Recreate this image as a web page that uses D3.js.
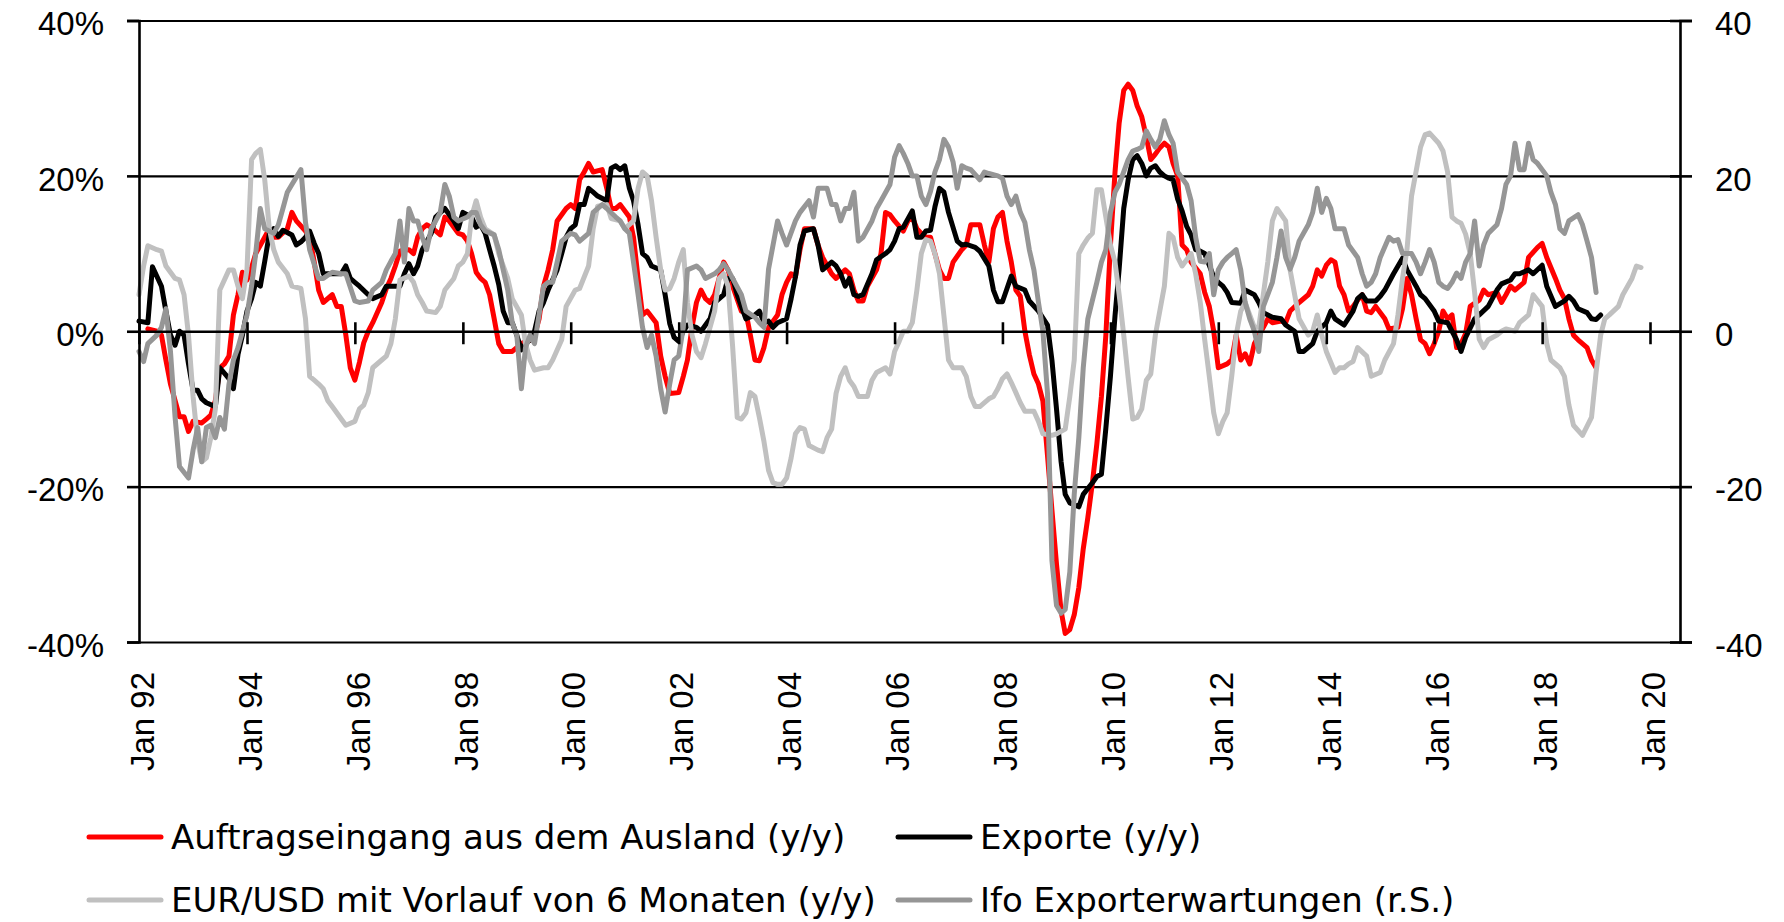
<!DOCTYPE html>
<html>
<head>
<meta charset="utf-8">
<script src="https://cdn.jsdelivr.net/npm/d3@7"></script>
<style>
  body { margin: 0; background: #fff; }
  svg { display: block; font-family: "DejaVu Sans", Verdana, sans-serif; }
  .axis .domain { stroke: #000; stroke-width: 2.6px; }
  .axis line { stroke: #000; stroke-width: 2.6px; }
  .axis text { fill: #000; font-size: 33px; }
  .grid line { stroke: #000; stroke-width: 2.2px; }
  .grid .domain { display: none; }
  .series { fill: none; stroke-width: 5px; stroke-linejoin: round; stroke-linecap: round; }
  .legend text { font-size: 34px; fill: #000; }
</style>
</head>
<body>
<svg width="1784" height="922"></svg>
<script>
// month offsets count from Jan 1992
const startYear = 1992;

const auftragAusland = [[2,0.3],[4,0],[5,-0.5],[6,-3.7],[7,-6.8],[8,-8.9],[9,-11],[10,-11],[11,-12.9],[12,-11.6],[14,-11.8],[15,-11.3],[16,-10.8],[17,-8.9],[18,-4.7],[19,-4.2],[20,-3.2],[21,2.1],[22,4.7],[23,7.6],[24,6.6],[25,8.2],[26,10],[28,12.1],[29,13.2],[30,12.1],[31,12.1],[33,13.2],[34,15.3],[35,14.2],[37,12.9],[38,12.1],[39,8.9],[40,5.3],[41,3.7],[43,4.7],[44,3.2],[45,3.2],[46,-0.5],[47,-4.7],[48,-6.3],[49,-4],[50,-1.5],[51,0],[52,1.1],[54,3.7],[55,5.5],[56,6.8],[57,8.4],[58,10.3],[59,10.5],[60,10.5],[61,10],[62,12.1],[63,13.2],[64,13.7],[65,13.4],[67,12.4],[68,14.7],[69,14.2],[71,12.6],[72,12.4],[73,11.6],[74,10],[75,7.6],[76,6.8],[77,6.3],[78,4.7],[79,1.6],[80,-1.6],[81,-2.6],[83,-2.6],[84,-2.1],[85,-1.6],[86,-1.3],[87,-1.1],[88,-0.5],[89,1.6],[90,5.8],[91,7.9],[92,10.5],[93,14.2],[95,15.8],[96,16.3],[97,15.8],[98,19.5],[99,20.5],[100,21.6],[101,20.5],[103,20.8],[104,18.4],[105,15.8],[106,15.8],[107,16.3],[109,14.7],[110,12.1],[111,6.8],[112,2.1],[113,2.6],[115,1.1],[116,-3.2],[117,-5.8],[118,-8],[120,-7.9],[121,-5.8],[122,-3.7],[123,0.5],[124,3.7],[125,5.3],[126,4.2],[127,3.7],[128,4.7],[129,6.8],[130,8.9],[131,7.9],[132,5.8],[134,2.6],[135,2.4],[136,-0.5],[137,-3.7],[138,-3.8],[139,-2.1],[140,0.5],[142,2.1],[143,4.7],[144,6.3],[145,7.4],[146,7],[147,10.5],[148,13.2],[150,13.2],[151,11.1],[152,9.5],[154,7.4],[155,6.8],[157,7.9],[158,7.4],[159,5.3],[160,3.9],[161,3.9],[162,5.8],[164,7.9],[165,10],[166,15.3],[167,15],[168,14.2],[170,12.9],[171,14.2],[172,14.7],[173,13.2],[174,12.6],[175,12.1],[176,12.1],[177,10],[178,7.9],[179,6.8],[180,6.8],[181,8.9],[183,10.5],[184,11.1],[185,13.7],[187,13.7],[188,11.1],[189,8.9],[190,13.2],[191,14.7],[192,15.3],[193,11.6],[194,8.9],[195,5.3],[196,4.5],[197,0],[198,-3],[199,-5.5],[200,-6.8],[201,-9],[202,-16],[203,-23],[204,-30],[205,-36],[206,-38.9],[207,-38.4],[208,-36.5],[209,-33],[210,-28],[211,-24],[212,-19.5],[213,-14.5],[214,-8.4],[215,-0.5],[216,11.1],[217,20.5],[218,26.8],[219,31],[220,31.8],[221,31],[222,29],[223,27.6],[224,25],[225,22.1],[226,22.8],[227,23.6],[228,24.2],[229,23.7],[230,21.6],[231,20],[232,11.1],[233,10.5],[234,8.9],[236,7.4],[237,5],[238,3.2],[239,0],[240,-4.7],[242,-4.2],[243,-3.7],[244,-0.5],[245,-3.7],[246,-2.9],[247,-4.2],[248,-1.6],[250,0.5],[251,1.6],[252,1.1],[254,1.3],[255,1.1],[256,2.6],[258,3.7],[260,4.7],[261,5.8],[262,7.9],[263,7.1],[264,8.5],[265,9.2],[266,8.9],[267,5.8],[268,4.7],[269,2.6],[270,3.2],[271,4],[272,4.7],[273,2.6],[274,2.4],[275,3.2],[277,1.6],[278,0.3],[280,0.5],[281,2.9],[282,6.8],[283,4.7],[284,1.6],[285,-1.1],[286,-1.6],[287,-2.9],[288,-1.6],[289,0],[290,2.6],[291,1.6],[292,2.1],[293,-2.1],[294,-1.6],[295,-0.3],[296,3.2],[298,4],[299,5.3],[300,4.7],[302,5],[303,3.7],[304,4.7],[305,5.8],[306,5.3],[308,6.3],[309,9.5],[311,10.8],[312,11.3],[313,9.5],[315,6.8],[316,5.3],[317,4.2],[318,1.6],[319,-0.5],[320,-1.1],[322,-2.1],[323,-3.7],[324,-4.7]];

const exporte = [[0,1.3],[2,1.1],[3,8.3],[5,5.8],[6,2.6],[7,-0.5],[8,-1.8],[9,0],[10,-0.5],[11,-4.2],[12,-7.6],[13,-7.6],[14,-8.7],[15,-9.2],[17,-9.7],[18,-4.7],[20,-6.1],[21,-7.4],[22,-3],[23,-0.5],[24,2.6],[25,4.2],[26,6.3],[27,5.8],[28,9],[29,12.5],[30,13.2],[31,12.2],[32,13],[34,12.4],[35,11.1],[36,11.5],[37,12.1],[38,12.9],[39,11.3],[40,10],[41,7.4],[45,7.4],[46,8.4],[47,6.8],[48,6.3],[49,5.8],[51,4.7],[52,4.2],[54,4.7],[55,5.8],[58,5.8],[59,7.4],[60,8.7],[61,7.4],[62,8.4],[63,10.5],[65,12.6],[66,14.7],[68,15.8],[70,14.2],[71,13.2],[72,15.3],[74,14.7],[75,13.4],[76,13.7],[77,12.6],[78,10.5],[79,8.4],[80,6],[81,2.6],[82,1.1],[83,1.1],[84,-0.5],[85,-2.4],[86,-1.6],[87,-1.1],[88,0],[89,2.6],[90,3.7],[91,5.3],[93,7.9],[94,10],[95,12.1],[96,13.2],[97,13.7],[98,16.3],[99,16.3],[100,18.4],[101,17.9],[102,17.4],[104,16.8],[105,21],[106,21.3],[107,20.8],[108,21.3],[109,18.4],[110,16.8],[111,13.7],[112,10],[113,9.5],[114,8.4],[116,7.9],[117,4.7],[118,1],[119,-0.8],[120,-1.3],[121,0],[122,0.8],[124,0.5],[125,0],[127,1.6],[128,3.7],[130,4.7],[131,6.8],[132,6.8],[133,4.7],[134,3.2],[135,1.6],[137,2.1],[138,2.6],[139,1.1],[140,1.3],[141,0.5],[142,1.1],[144,1.6],[145,4.2],[146,7],[147,11.1],[148,12.9],[150,13.2],[151,11.1],[152,7.9],[154,8.9],[155,8.4],[156,7.4],[157,5.8],[158,6.8],[159,4.7],[160,4.5],[161,4.7],[163,7.4],[164,9.2],[166,10],[167,10.5],[168,11.6],[169,13.2],[170,13.4],[172,15.5],[173,12.1],[174,12.1],[175,12.9],[176,13],[177,16],[178,18.4],[179,17.9],[180,15.3],[182,11.6],[183,11.1],[184,11.2],[186,10.8],[187,10.3],[189,8.4],[190,5.3],[191,3.8],[192,3.8],[193,5.5],[194,7.1],[195,5.8],[197,5.3],[198,3.9],[200,2.6],[202,0.8],[203,-3.7],[204,-10],[205,-16.8],[206,-21],[207,-22.1],[209,-22.6],[210,-21],[212,-19.5],[213,-18.7],[214,-18.4],[215,-12.5],[216,-5.8],[217,2],[218,8],[219,15.8],[220,19.5],[221,22.1],[222,22.6],[223,21.6],[224,20],[225,21],[226,21.3],[227,20.5],[228,20],[229,19.7],[230,19.5],[231,17],[232,15.5],[233,13.5],[234,12.4],[235,10.5],[236,10.3],[237,10],[238,8.5],[239,7],[240,6.3],[241,5.8],[242,5],[243,3.7],[245,3.6],[246,5.3],[248,4.7],[249,3.7],[250,2.4],[252,1.8],[254,1.6],[255,0.8],[257,0],[258,-2.6],[259,-2.6],[261,-1.6],[262,0],[264,1.1],[265,2.6],[266,1.6],[268,0.8],[270,2.6],[271,4.2],[272,4.7],[273,3.9],[275,3.9],[276,4.5],[277,5.3],[279,7.4],[281,9.4],[282,7.9],[284,5.8],[285,4.7],[286,4.2],[288,2.6],[289,1.3],[291,1.1],[292,0],[293,-1.1],[294,-2.6],[295,-0.8],[297,1.6],[298,2.1],[300,3.2],[302,5.3],[303,6.1],[305,6.6],[306,7.4],[307,7.4],[309,7.9],[310,7.4],[312,8.5],[313,5.8],[315,3.2],[317,3.9],[318,4.5],[319,3.9],[320,2.9],[322,2.4],[323,1.6],[324,1.5],[325,2.1]];

const eurUsd = [[0,4.7],[1,8.4],[2,11],[4,10.5],[5,10.3],[6,8.4],[8,6.8],[9,6.6],[10,4.7],[11,-0.5],[12,-8.4],[13,-14.2],[14,-16.8],[15,-16.3],[16,-13.7],[17,-10],[18,5.3],[20,7.9],[21,7.9],[22,5.8],[23,4.2],[24,8],[25,22.1],[26,22.9],[27,23.4],[28,19.5],[29,13.2],[30,10.5],[31,8.9],[33,7.4],[34,5.8],[36,5.5],[37,1.6],[38,-5.8],[39,-6.3],[40,-6.8],[41,-7.4],[42,-8.9],[43,-9.7],[45,-11.3],[46,-12.1],[48,-11.6],[49,-10],[50,-9.5],[51,-7.9],[52,-4.7],[54,-3.7],[55,-3.2],[56,-1.6],[57,1.6],[58,6.6],[60,7.1],[61,6.3],[62,4.7],[63,3.7],[64,2.6],[66,2.4],[67,3.2],[68,5.3],[70,6.8],[71,8.4],[72,8.9],[73,10],[74,14.7],[75,16.8],[76,14.7],[77,13.2],[79,12.4],[80,10],[82,6.8],[83,4.2],[85,2.1],[86,-1.6],[87,-3.7],[88,-5],[90,-4.7],[91,-4.7],[92,-3.7],[94,-1.1],[95,3.2],[97,5.3],[98,5.5],[100,8.4],[101,13.2],[102,16.1],[104,16.3],[105,14.5],[107,14.2],[108,13.2],[110,14.2],[111,18.4],[112,20.5],[113,20],[114,16.8],[115,12.1],[116,7.9],[117,5.3],[118,5.5],[119,6.8],[120,8.9],[121,10.5],[122,3.7],[123,-0.5],[124,-2.6],[125,-3.4],[126,-1.6],[128,2.6],[129,6.8],[130,7.4],[131,5.8],[132,-2],[133,-11.1],[134,-11.3],[135,-10.5],[136,-7.9],[137,-8.4],[138,-11.1],[139,-14.2],[140,-17.9],[141,-19.5],[142,-19.7],[143,-19.7],[144,-18.9],[145,-16.3],[146,-13.2],[147,-12.4],[148,-12.6],[149,-14.7],[151,-15.3],[152,-15.5],[153,-13.7],[154,-12.6],[155,-8],[156,-5.8],[157,-4.7],[158,-6.3],[159,-7.1],[160,-8.4],[162,-8.4],[163,-6.3],[164,-5.3],[166,-4.7],[167,-5.5],[168,-2.6],[169,-1.3],[170,0],[171,0],[172,1.1],[173,5.3],[174,10],[175,11.8],[176,11.6],[177,10],[178,7.4],[179,2],[180,-3.7],[181,-4.7],[183,-4.7],[184,-5.8],[185,-8.4],[186,-9.7],[187,-9.7],[189,-8.7],[190,-8.4],[191,-7.4],[192,-6.1],[193,-5.5],[194,-6.6],[195,-7.9],[196,-9.2],[197,-10.3],[199,-10.3],[200,-11.6],[201,-13.2],[203,-13.4],[204,-13.2],[206,-12.6],[207,-8.4],[208,-3.7],[209,10],[210,11.1],[211,12],[212,12.6],[213,18.2],[214,18.2],[215,14.7],[216,11.1],[217,8.9],[218,4.7],[219,-0.5],[220,-6],[221,-11.3],[222,-11.1],[223,-10],[224,-6.3],[225,-5.5],[226,-0.5],[228,5.8],[229,12.6],[230,12.1],[231,9.5],[232,8.4],[233,9.2],[234,10],[235,7.4],[236,3.7],[237,-1.1],[238,-5.8],[239,-10.5],[240,-13.2],[241,-11.6],[242,-10.5],[243,-5.8],[244,-0.5],[245,2.6],[246,3.7],[248,0.5],[249,0.5],[251,8.9],[252,14.2],[253,15.8],[255,14.2],[256,7.9],[257,4.7],[258,1.6],[260,-0.5],[261,0],[262,2.1],[263,-0.5],[264,-2.6],[266,-5.3],[267,-4.7],[268,-4.7],[269,-4.2],[270,-3.9],[271,-2.1],[273,-3.2],[274,-5.8],[276,-5.3],[277,-3.7],[279,-1.6],[280,2.1],[281,6.8],[282,10.5],[283,17.4],[285,23.7],[286,25.3],[287,25.5],[289,24.2],[290,23.2],[291,20.5],[292,14.7],[293,14.2],[294,13.9],[295,12.5],[296,10],[297,5],[298,-1],[299,-2.1],[300,-1.1],[302,-0.5],[303,0],[304,0.3],[306,0],[307,1.1],[309,2.1],[310,4.7],[312,3.2],[313,-1.6],[314,-3.7],[316,-4.7],[317,-5.8],[318,-9.5],[319,-12.1],[321,-13.4],[323,-11.1],[324,-5.3],[325,-0.5],[326,1.6],[327,2.1],[329,3.2],[330,4.7],[332,6.8],[333,8.4],[334,8.2]];

// right scale
const ifoExport = [[0,-2.6],[1,-3.9],[2,-1.6],[4,-0.5],[5,0.5],[6,2.9],[7,-2.6],[8,-11],[9,-17.4],[11,-18.9],[12,-15.3],[13,-12.4],[14,-16.8],[15,-12.4],[16,-12.1],[17,-13.7],[18,-11.1],[19,-12.6],[20,-6.8],[21,-3.7],[22,-2.1],[24,2.1],[25,5.8],[26,10],[27,15.8],[28,13.2],[30,12.6],[31,13.7],[32,15.8],[33,17.9],[34,18.9],[36,20.8],[37,14],[38,10.5],[40,6.8],[41,6.8],[43,7.6],[45,7.4],[46,7.4],[48,3.9],[49,3.7],[51,3.9],[52,5.3],[54,6.3],[55,7.9],[56,9],[57,10],[58,14.2],[59,8.9],[60,15.8],[61,14.2],[62,14.2],[63,12.1],[64,10.5],[65,13.2],[66,14.2],[67,15.3],[68,18.9],[69,17.4],[70,14.7],[71,14.2],[73,14.7],[74,15.3],[75,15.3],[76,13.7],[77,12.9],[79,12.4],[80,10.5],[81,7.9],[82,5.3],[83,1.1],[84,-0.5],[85,-7.4],[86,-2.1],[87,-0.5],[88,-1.6],[90,5.8],[91,6.3],[92,6.3],[93,8.9],[94,11.6],[96,12.6],[97,12.4],[98,11.6],[100,12.6],[101,15.3],[103,16.3],[104,15.8],[106,14.7],[107,14.2],[108,13.2],[109,12.6],[110,8.9],[111,4.7],[112,0.5],[113,-2.1],[114,-0.5],[115,-3.2],[116,-7.4],[117,-10.4],[118,-6.8],[119,-3.7],[120,-3.2],[121,0.5],[122,7.9],[124,8.4],[125,7.9],[126,6.8],[128,7.4],[129,7.9],[130,8.7],[131,7.9],[132,6.8],[134,4.7],[135,2.6],[137,1.8],[138,1.1],[139,0.5],[140,8],[142,14.2],[143,12.6],[144,11.1],[146,14.2],[147,15.3],[149,16.8],[150,14.7],[151,18.4],[153,18.4],[154,16.3],[155,16.3],[156,14.2],[157,15.8],[158,15.8],[159,17.9],[160,11.6],[161,12.1],[163,14.2],[164,15.8],[165,16.8],[167,18.9],[168,22.4],[169,23.9],[170,22.9],[171,21.6],[172,20],[173,20],[174,17.4],[175,16.3],[176,18],[177,20.5],[178,22.1],[179,24.7],[180,23.7],[181,21.8],[182,18.4],[183,21.3],[184,21],[185,20.8],[187,19.5],[188,20.5],[189,20.3],[191,20],[192,19.7],[193,17.4],[194,16.3],[195,17.4],[196,15.3],[197,14],[198,10.5],[199,7.9],[200,3.7],[201,0],[202,-8],[203,-29.5],[204,-35.3],[205,-36.3],[206,-35.8],[207,-31],[208,-21],[209,-13.7],[210,-4.7],[211,1.6],[213,6.3],[214,8.9],[215,10.5],[216,15.3],[217,17.9],[218,18.9],[220,22.1],[221,23.2],[222,23.4],[223,23.7],[224,25.8],[225,24.7],[226,23.7],[227,24.7],[228,27.1],[229,25.3],[230,24.2],[231,20.5],[233,18.9],[234,16.8],[235,12.1],[236,9],[237,8.9],[238,10],[239,4.7],[240,7.9],[241,8.9],[242,9.5],[243,10],[244,10.5],[245,7.9],[246,3.7],[247,1.6],[248,0],[249,-2.6],[250,3.2],[252,6.3],[253,9.5],[254,12.9],[255,9.5],[256,8],[257,9.5],[258,11.6],[260,13.7],[261,15.3],[262,18.4],[263,15.3],[264,17.1],[265,15.8],[266,13.2],[268,13.2],[269,11.1],[271,9.5],[272,7.4],[273,5.8],[274,6.3],[275,7.4],[276,9.5],[278,12.1],[279,11.6],[280,11.8],[281,10],[283,10],[284,8.9],[285,7.4],[286,8.9],[287,10.5],[288,8.9],[289,6.3],[290,5.8],[291,5.5],[292,6.3],[293,7.5],[294,6.8],[295,8.9],[296,10],[297,14.2],[298,8.4],[299,11.1],[300,12.6],[302,13.7],[303,15.8],[304,18.9],[305,20],[306,24.2],[307,20.8],[308,20.8],[309,24.2],[310,22.1],[311,21.6],[313,20],[314,17.9],[315,16.3],[316,13.2],[317,12.6],[318,14.2],[320,15],[321,13.7],[322,11.6],[323,9.5],[324,5]];

const yTicks = [-40, -20, 0, 20, 40];
const legendItems = [
  {name: "Auftragseingang aus dem Ausland (y/y)", color: "#ff0000"},
  {name: "Exporte (y/y)", color: "#000000"},
  {name: "EUR/USD mit Vorlauf von 6 Monaten (y/y)", color: "#c0c0c0"},
  {name: "Ifo Exporterwartungen (r.S.)", color: "#969696"}
];

const svg = d3.select("svg");
const plotL = 139, plotR = 1680, plotT = 20.5, plotB = 642;

const x = d3.scaleTime()
    .domain([new Date(1992, 0, 1), new Date(2020, 6, 22)])
    .range([plotL, plotR]);
const y = d3.scaleLinear().domain([-40, 40]).range([plotB, plotT]);
const yR = d3.scaleLinear().domain([-40, 40]).range([plotB, plotT]);

const toDate = m => new Date(startYear, m, 1);

// gridlines (also the top and bottom frame)
svg.append("g")
    .attr("class", "grid")
    .attr("transform", `translate(${plotL},0)`)
    .call(d3.axisLeft(y).tickValues([-40, -20, 20, 40]).tickSize(-(plotR - plotL)).tickFormat(""));

// series, in legend order
const lineL = d3.line().x(d => x(toDate(d[0]))).y(d => y(d[1]));
const lineR = d3.line().x(d => x(toDate(d[0]))).y(d => yR(d[1]));

svg.append("path").datum(auftragAusland).attr("class", "series").attr("stroke", legendItems[0].color).attr("d", lineL);
svg.append("path").datum(exporte).attr("class", "series").attr("stroke", legendItems[1].color).attr("d", lineL);
svg.append("path").datum(eurUsd).attr("class", "series").attr("stroke", legendItems[2].color).attr("d", lineL);
svg.append("path").datum(ifoExport).attr("class", "series").attr("stroke", legendItems[3].color).attr("d", lineR);

// x axis line at 0 with crossing ticks
const xTicks = d3.timeYear.every(2).range(new Date(1992, 0, 1), new Date(2020, 1, 1));
const xAxis = svg.append("g")
    .attr("class", "axis")
    .attr("transform", `translate(0,${y(0)})`)
    .call(d3.axisBottom(x).tickValues(xTicks).tickSizeInner(13).tickSizeOuter(0).tickFormat(""));
xAxis.selectAll(".tick line").attr("y1", -9);

// x labels at the bottom, rotated
const xLab = svg.append("g")
    .attr("class", "axis")
    .attr("transform", `translate(0,${plotB})`)
    .call(d3.axisBottom(x).tickValues(xTicks).tickSize(0).tickFormat(d3.timeFormat("Jan %y")));
xLab.select(".domain").remove();
xLab.selectAll("text")
    .attr("transform", "translate(0,30) rotate(-90)")
    .attr("x", 0).attr("y", 0).attr("dy", "0.43em")
    .attr("text-anchor", "end");

// left axis
svg.append("g")
    .attr("class", "axis")
    .attr("transform", `translate(${plotL},0)`)
    .call(d3.axisLeft(y).tickValues(yTicks).tickSize(12).tickPadding(23).tickFormat(d => d + "%"))
    .selectAll("text").attr("dy", "0.43em");

// right axis
const rAx = svg.append("g")
    .attr("class", "axis")
    .attr("transform", `translate(${plotR},0)`)
    .call(d3.axisRight(yR).tickValues(yTicks).tickSize(12).tickPadding(23).tickFormat(d => d));
rAx.selectAll("text").attr("dy", "0.43em");
rAx.selectAll(".tick line").attr("x1", -10);

// legend
const legendPos = [[89, 837], [898, 837], [89, 900], [898, 900]];
const lg = svg.append("g").attr("class", "legend");
legendItems.forEach((it, i) => {
  const [lx, ly] = legendPos[i];
  lg.append("line")
      .attr("x1", lx).attr("x2", lx + 72)
      .attr("y1", ly).attr("y2", ly)
      .attr("stroke", it.color).attr("stroke-width", 5).attr("stroke-linecap", "round");
  lg.append("text")
      .attr("x", lx + 82).attr("y", ly + 12)
      .text(it.name);
});
</script>
</body>
</html>
